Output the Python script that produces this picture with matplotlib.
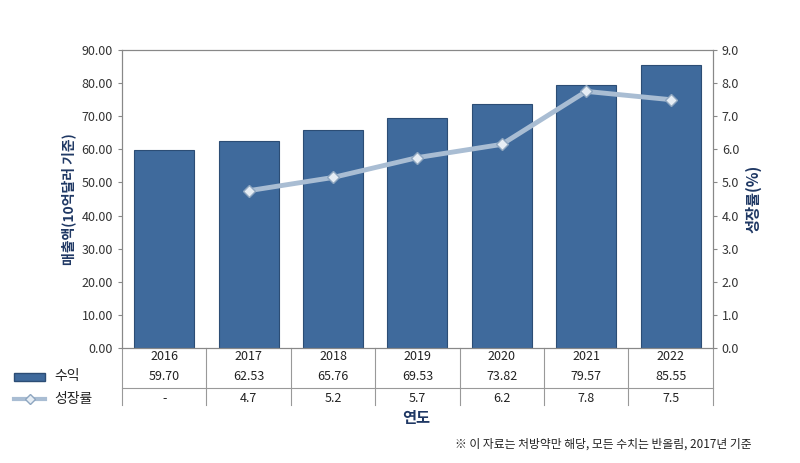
import matplotlib
matplotlib.use("Agg")
import matplotlib.pyplot as plt
from matplotlib.patches import Rectangle
from matplotlib.lines import Line2D
import numpy as np

plt.rcParams["font.family"] = ["Noto Sans CJK KR", "Noto Sans CJK JP", "Noto Sans CJK SC", "DejaVu Sans"]

years = ["2016", "2017", "2018", "2019", "2020", "2021", "2022"]
revenue = [59.70, 62.53, 65.76, 69.53, 73.82, 79.57, 85.55]
growth_labels = ["-", "4.7", "5.2", "5.7", "6.2", "7.8", "7.5"]
growth = [np.nan, 4.75, 5.15, 5.75, 6.15, 7.75, 7.5]

fig = plt.figure(figsize=(8, 4.63), dpi=100)
ax = fig.add_axes([0.1525, 0.2484, 0.7385, 0.6436])
x = np.arange(len(years))
ax.bar(x, revenue, width=0.71, color="#3f6a9c", edgecolor="#2c4d75", linewidth=0.8, zorder=2)
ax.set_xlim(-0.5, 6.5)
ax.set_ylim(0, 90)
ax.set_yticks(np.arange(0, 91, 10))
ax.set_yticklabels([f"{v:.2f}" for v in np.arange(0, 91, 10)], fontsize=9, color="#333")
ax.set_xticks([])
ax.tick_params(axis="y", length=3, color="#888")
for s in ax.spines.values():
    s.set_color("#888")
ax.set_ylabel("매출액(10억달러 기준)", fontsize=10, color="#1f3864", fontweight="bold")

ax2 = ax.twinx()
ax2.plot(x, growth, color="#a9bdd3", lw=3.5, marker="D", ms=6,
         mfc="#e6edf4", mec="#8ea6c0", zorder=3)
ax2.set_ylim(0, 9)
ax2.set_yticks(np.arange(0, 9.1, 1))
ax2.set_yticklabels([f"{v:.1f}" for v in np.arange(0, 9.1, 1)], fontsize=9, color="#333")
ax2.tick_params(axis="y", length=3, color="#888")
ax2.set_ylabel("성장률(%)", fontsize=11, color="#1f3864", fontweight="bold")
for s in ax2.spines.values():
    s.set_color("#888")

# data table
tr = ax.get_xaxis_transform()
for i in range(len(years)):
    ax.text(i, -0.03, years[i], transform=tr, ha="center", va="center", fontsize=9, color="#222")
    ax.text(i, -0.094, f"{revenue[i]:.2f}", transform=tr, ha="center", va="center", fontsize=9, color="#222")
    ax.text(i, -0.168, growth_labels[i], transform=tr, ha="center", va="center", fontsize=9, color="#222")
for b in np.arange(-0.5, 7, 1):
    ax.add_line(Line2D([b, b], [0, -0.19], transform=tr, color="#999", lw=0.8, clip_on=False))
ax.add_line(Line2D([-0.5, 6.5], [-0.134, -0.134], transform=tr, color="#999", lw=0.8, clip_on=False))

# legend column
fig.patches.append(Rectangle((0.018, 0.177), 0.038, 0.017, transform=fig.transFigure,
                             facecolor="#3f6a9c", edgecolor="#2c4d75"))
fig.text(0.068, 0.187, "수익", fontsize=10, va="center", color="#222")
fig.lines.append(Line2D([0.018, 0.056], [0.138, 0.138], transform=fig.transFigure,
                        color="#a9bdd3", lw=3))
fig.lines.append(Line2D([0.037], [0.138], transform=fig.transFigure, marker="D", ms=5,
                        mfc="#e6edf4", mec="#8ea6c0", lw=0))
fig.text(0.068, 0.138, "성장률", fontsize=10, va="center", color="#222")

fig.text(0.52, 0.098, "연도", fontsize=11, ha="center", va="center", color="#1f3864", fontweight="bold")
fig.text(0.94, 0.04, "※ 이 자료는 처방약만 해당, 모든 수치는 반올림, 2017년 기준",
         fontsize=8.5, ha="right", va="center", color="#222")

fig.savefig("out.png", dpi=100)
